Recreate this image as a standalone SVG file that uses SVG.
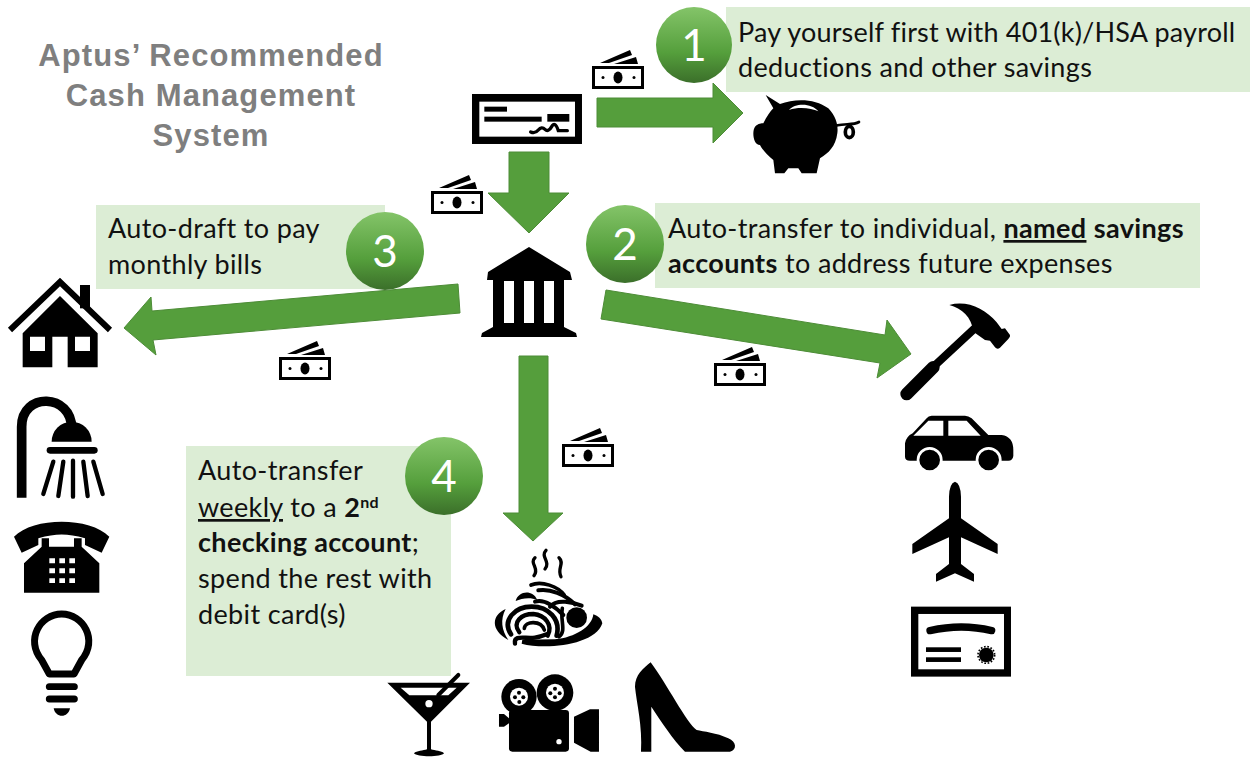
<svg xmlns="http://www.w3.org/2000/svg" xmlns:xlink="http://www.w3.org/1999/xlink" width="1260" height="775" viewBox="0 0 1260 775">
<style>
.box{fill:#dcedd5}
.t{font-family:Lato,"Open Sans",sans-serif;font-size:27px;letter-spacing:.35px;fill:#111}
.b{font-weight:700}
.u{text-decoration:underline}
.title{font-family:"Liberation Sans",Arial,sans-serif;font-size:31px;letter-spacing:1.1px;font-weight:700;fill:#7f7f7f;text-anchor:middle}
.num{font-family:Lato,"Open Sans",sans-serif;font-size:44px;fill:#fff;text-anchor:middle}
.arrow{fill:#559e3c;stroke:#4d8c37;stroke-width:1}
.ic{fill:#000}
.w{fill:#fff}
.ln{fill:none;stroke:#000;stroke-linecap:round}
.wl{fill:none;stroke:#fff;stroke-linecap:round}
</style>
<defs>
<linearGradient id="g" x1="0" y1="0" x2="0" y2="1"><stop offset="0" stop-color="#84c469"/><stop offset=".6" stop-color="#559f3c"/><stop offset="1" stop-color="#3b6f2a"/></linearGradient>
<symbol id="bill" width="52" height="39" viewBox="0 0 52 39" overflow="visible">
<rect x="1.500" y="17.500" width="49" height="20" fill="#fff" stroke="#000" stroke-width="3"/>
<ellipse cx="26" cy="27.500" rx="4.500" ry="6"/><circle cx="11" cy="27.500" r="1.500"/><circle cx="42" cy="27.500" r="1.500"/>
<path d="M8 13L38 0L40 5L17 13ZM22 14L44 7L46 14Z"/>
</symbol>
</defs>
<rect width="1260" height="775" fill="#fff"/>
<g id="title"><text class="title" x="211" y="66">Aptus’ Recommended</text><text class="title" x="211" y="106">Cash Management</text><text class="title" x="211" y="146">System</text></g>

<g id="connectors">
<polygon class="arrow" points="597,98 713,98 713,83 743,113 713,143 713,127 597,127"/>
<polygon class="arrow" points="509,152 549,152 549,193 569,193 529,233 488,193 509,193"/>
<polygon class="arrow" points="458,284 460,313 153,340 156,355 124,328 151,297 152,311"/>
<polygon class="arrow" points="606,290 601,319 880,363 877,378 911,354 887,320 885,335"/>
<polygon class="arrow" points="519,356 548,356 548,513 563,513 533,541 503,513 519,513"/>
</g>

<g id="step1"><rect class="box" x="726" y="7" width="524" height="85"/>
<text class="t" x="738" y="42" style="letter-spacing:.2px">Pay yourself first with 401(k)/HSA payroll</text><text class="t" x="738" y="77">deductions and other savings</text>
<circle cx="694" cy="45" r="38" fill="url(#g)"/><text class="num" x="694" y="61">1</text></g>
<g id="step2"><rect class="box" x="655" y="203" width="545" height="85"/>
<text class="t" x="668" y="238">Auto-transfer to individual, <tspan class="b u">named</tspan> <tspan class="b">savings</tspan></text><text class="t" x="668" y="273"><tspan class="b">accounts</tspan> to address future expenses</text>
<circle cx="625" cy="244" r="39" fill="url(#g)"/><text class="num" x="625" y="260">2</text></g>
<g id="step3"><rect class="box" x="96" y="205" width="289" height="84"/>
<text class="t" x="108" y="238">Auto-draft to pay</text><text class="t" x="108" y="274">monthly bills</text>
<circle cx="385" cy="251" r="39" fill="url(#g)"/><text class="num" x="385" y="267">3</text></g>
<g id="step4"><rect class="box" x="186" y="446" width="265" height="230"/>
<text class="t" x="198" y="480">Auto-transfer</text><text class="t" x="198" y="517"><tspan class="u">weekly</tspan> to a <tspan class="b">2<tspan font-size="16" dy="-9">nd</tspan></tspan></text><text class="t" x="198" y="552"><tspan class="b">checking account</tspan>;</text><text class="t" x="198" y="588">spend the rest with</text><text class="t" x="198" y="624">debit card(s)</text>
<circle cx="444" cy="476" r="39" fill="url(#g)"/><text class="num" x="444" y="492">4</text></g>

<g id="bills">
<use xlink:href="#bill" href="#bill" x="592" y="50"/>
<use xlink:href="#bill" href="#bill" x="431" y="175"/>
<use xlink:href="#bill" href="#bill" x="279" y="341"/>
<use xlink:href="#bill" href="#bill" x="714" y="347"/>
<use xlink:href="#bill" href="#bill" x="562" y="428"/>
</g>

<g id="check" transform="translate(430,0) scale(.3333)">
<rect class="ic" x="126" y="282" width="330" height="150"/><rect class="w" x="148" y="305" width="287" height="105"/>
<rect class="ic" x="163" y="320" width="68" height="15"/><rect class="ic" x="163" y="350" width="172" height="15"/><rect class="ic" x="352" y="342" width="66" height="23"/>
<path class="ln" stroke-width="10" d="M302 396Q315 402 325 390T345 388T365 380T385 392H412"/>
</g>
<g id="bank" fill="#000"><path d="M529 247L570 272L572 280H564V323H554V281H544V323H534V281H524V323H514V281H504V323H493V280H487L488 272Z"/><path d="M493 323H564V327L576 333L577 337H481L482 333L493 327Z"/></g>
<g id="piggy" transform="translate(745,90) scale(.3333)">
<path class="ic" d="M62 15L105 42C150 25 210 25 250 55C275 80 280 110 277 130C272 170 250 190 225 205L215 250H170L160 235H130L118 250H90L85 210C65 195 50 175 45 165C25 165 20 125 30 110C40 100 50 100 55 100C65 80 75 65 85 55Z"/>
<path class="w" d="M132 60C150 38 200 38 220 64C200 54 160 50 132 60Z"/>
<path class="ln" stroke-width="8" d="M278 106C300 100 325 106 342 96"/><ellipse cx="313" cy="126" rx="12" ry="17" fill="none" stroke="#000" stroke-width="11"/>
</g>

<g id="house" transform="translate(0,270) scale(.3333)">
<path d="M30 180L180 36L330 180" fill="none" stroke="#000" stroke-width="18"/><rect class="ic" x="240" y="45" width="30" height="70"/>
<path class="ic" d="M68 292V190L180 78L293 190V292H203V200H157V292ZM90 200V243H135V200ZM225 200V243H270V200Z" fill-rule="evenodd"/>
</g>
<g id="shower" transform="translate(0,270) scale(.3333)">
<path d="M65 683V470C65 365 215 370 215 475" fill="none" stroke="#000" stroke-width="29"/>
<path class="ic" d="M155 515A60 60 0 0 1 275 515Z"/>
<path class="ln" stroke-width="20" d="M150 541H283"/>
<path class="ln" stroke-width="13" d="M130 672L160 575M175 678L190 575M219 680V572M263 678L250 575M308 672L280 575"/>
</g>
<g id="phone" transform="translate(0,270) scale(.3333)">
<path class="ic" d="M42 800C100 740 270 740 328 800L305 848L255 825V805C200 790 170 790 115 805V825L65 848Z"/>
<path class="ic" d="M72 968V880L125 830V805H147V830H222V805H245V830L298 880V968Z"/>
<path class="w" d="M148 865h17v15h-17zM178 865h17v15h-17zM208 865h17v15h-17zM148 895h17v15h-17zM178 895h17v15h-17zM208 895h17v15h-17zM148 925h17v14h-17zM178 925h17v14h-17zM208 925h17v14h-17z"/>
</g>
<g id="bulb" transform="translate(0,270) scale(.3333)">
<path fill="none" stroke="#000" stroke-width="21" stroke-linejoin="round" d="M148 1212L125 1170C75 1110 120 1032 185 1032C250 1032 295 1110 245 1170L222 1212Z"/>
<path class="ln" stroke-width="21" d="M148 1250H223M148 1287H223"/>
<path class="ic" d="M161 1315H210C205 1345 166 1345 161 1315Z"/>
</g>

<g id="pasta" transform="translate(485,545) scale(.3333)">
<path class="ln" stroke-width="10" d="M150 38C132 55 165 70 147 92M183 16C165 35 198 50 180 72M222 38C240 55 215 70 228 95"/>
<path class="ic" d="M62 192C20 210 15 255 70 285C50 255 45 225 62 192Z"/>
<path class="ic" d="M110 296C180 315 330 302 352 235C350 222 340 213 325 208C322 245 270 278 210 283L112 284Z"/>
<path class="ln" stroke-width="14" d="M78 268C50 225 90 185 140 185C190 185 228 222 215 272"/>
<path class="ln" stroke-width="13" d="M103 262C80 230 110 207 145 207C180 210 205 240 188 272"/>
<path class="ln" stroke-width="11" d="M118 250C120 228 168 225 178 255"/>
<path class="ln" stroke-width="13" d="M90 296C85 268 120 282 150 278C165 276 175 272 185 268"/>
<path class="ic" d="M92 168C100 138 142 132 157 165C135 155 110 160 92 168Z"/>
<path class="ln" stroke-width="11" d="M138 120C170 106 220 125 238 150"/>
<path class="ln" stroke-width="12" d="M160 136C195 130 240 148 270 178"/>
<path class="ln" stroke-width="12" d="M150 170C180 160 215 190 235 210"/>
<path class="ln" stroke-width="12" d="M195 185C215 160 265 172 290 182"/>
<path class="ln" stroke-width="11" d="M232 190C225 225 245 260 222 275"/>
<circle cx="275" cy="218" r="31" class="ic"/>
</g>
<g id="cocktail" transform="translate(380,540) scale(.3333)">
<path class="ic" d="M22 428H270L153 545V628C165 632 185 632 192 640C185 652 110 652 102 640C110 632 130 632 141 628V545Z"/>
<path class="w" d="M62 443H230L205 466H88Z"/>
<path stroke="#000" stroke-width="12" stroke-linecap="round" d="M175 465L235 405"/>
<circle cx="147" cy="491" r="11" class="w"/>
</g>
<g id="camera" transform="translate(380,540) scale(.3333)">
<circle cx="417" cy="470" r="53" class="ic"/><circle cx="525" cy="458" r="55" class="ic"/>
<circle cx="417" cy="470" r="27" class="w"/><circle cx="525" cy="458" r="27" class="w"/>
<g class="ic"><circle cx="417" cy="458" r="6"/><circle cx="405" cy="472" r="6"/><circle cx="430" cy="472" r="6"/><circle cx="418" cy="486" r="6"/><circle cx="525" cy="446" r="6"/><circle cx="511" cy="460" r="6"/><circle cx="539" cy="460" r="6"/><circle cx="525" cy="472" r="6"/></g>
<rect class="ic" x="387" y="510" width="180" height="125" rx="10"/><circle cx="537" cy="605" r="8" class="w"/>
<path class="ic" d="M357 522H372L387 535V550L372 560H357ZM582 530L630 508H657V635H632L582 608Z"/>
</g>
<g id="heel" transform="translate(380,540) scale(.3333)">
<path class="ic" d="M812 367C790 385 765 405 765 440C770 490 788 560 783 635H814L814 500C840 540 880 600 915 635H1050C1072 630 1070 605 1045 595C1010 578 970 575 950 570C920 550 860 430 812 367Z"/>
</g>

<g id="hammer" transform="translate(890,290) scale(.3333)">
<path class="ln" stroke-width="38" d="M50 312L130 232"/><path class="ln" stroke-width="24" stroke-linecap="butt" d="M125 235L265 105"/>
<path class="ic" d="M178 45C230 30 285 55 320 97L335 117L345 115L360 135Q362 140 355 147L330 173Q322 180 315 172L300 152L285 150L250 125C245 80 215 55 178 45Z"/>
</g>
<g id="car" transform="translate(890,290) scale(.3333)">
<path class="ic" d="M45 500V460Q48 440 68 430L110 385Q115 377 125 377H225Q235 377 245 385L295 435H335Q370 440 370 480V498Q368 512 355 512H60Q45 512 45 500Z"/>
<path class="w" d="M70 437L115 392H160V437ZM175 392H230L272 437H175Z"/>
<circle cx="119" cy="510" r="35" class="ic" stroke="#fff" stroke-width="8"/><circle cx="296" cy="510" r="35" class="ic" stroke="#fff" stroke-width="8"/>
</g>
<g id="plane" transform="translate(890,290) scale(.3333)">
<path class="ic" d="M195 575Q178 580 177 620V685L67 762V792L177 742V822L138 852V875L195 850L252 875V852L213 822V742L323 792V762L213 685V620Q212 580 195 575Z"/>
</g>
<g id="certificate" transform="translate(890,290) scale(.3333)">
<rect class="ic" x="63" y="950" width="300" height="210"/><rect class="w" x="85" y="972" width="257" height="166"/>
<path class="ln" stroke-width="22" d="M120 1022Q215 1000 305 1022"/>
<rect class="ic" x="108" y="1072" width="105" height="14"/><rect class="ic" x="108" y="1102" width="105" height="14"/>
<circle cx="289" cy="1095" r="22" class="ic"/><circle cx="289" cy="1095" r="25" fill="none" stroke="#000" stroke-width="5" stroke-dasharray="5 5"/>
</g>
</svg>
